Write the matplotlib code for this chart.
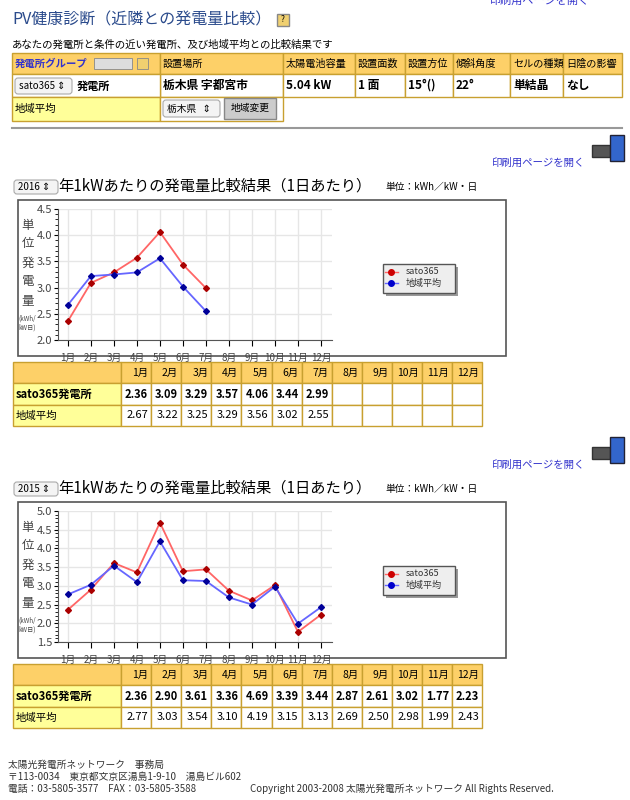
import matplotlib
matplotlib.use("Agg")
import matplotlib.pyplot as plt
import numpy as np
from matplotlib.patches import Rectangle, FancyBboxPatch

plt.rcParams["font.family"] = ["Noto Sans CJK JP", "DejaVu Sans"]

months = ["1月", "2月", "3月", "4月", "5月", "6月", "7月", "8月", "9月", "10月", "11月", "12月"]
site_2016 = [2.36, 3.09, 3.29, 3.57, 4.06, 3.44, 2.99]
area_2016 = [2.67, 3.22, 3.25, 3.29, 3.56, 3.02, 2.55]
site_2015 = [2.36, 2.90, 3.61, 3.36, 4.69, 3.39, 3.44, 2.87, 2.61, 3.02, 1.77, 2.23]
area_2015 = [2.77, 3.03, 3.54, 3.10, 4.19, 3.15, 3.13, 2.69, 2.50, 2.98, 1.99, 2.43]
info_head = ["設置場所", "太陽電池容量", "設置面数", "設置方位", "傾斜角度", "セルの種類", "日陰の影響"]
info_vals = ["栃木県 宇都宮市", "5.04 kW", "1 面", "15°()", "22°", "単結晶", "なし"]

W, H = 630, 800
fig = plt.figure(figsize=(6.3, 8), dpi=100)
bg = fig.add_axes([0, 0, 1, 1])
bg.set_xlim(0, W); bg.set_ylim(H, 0); bg.axis("off")

ORANGE = "#fdd068"; YELLOW = "#ffff99"; BORDER = "#c8a030"; LINK = "#3333cc"

def cell(x0, y0, x1, y1, fc, text="", ha="left", bold=False, size=8, color="black"):
    bg.add_patch(Rectangle((x0, y0), x1 - x0, y1 - y0, fc=fc, ec=BORDER, lw=1))
    if text:
        tx = x0 + 3 if ha == "left" else x1 - 3
        bg.text(tx, (y0 + y1) / 2, text, ha=ha, va="center", fontsize=size,
                weight="bold" if bold else "normal", color=color)

def button(x0, y0, x1, y1, text, fc="#f4f4f4"):
    bg.add_patch(FancyBboxPatch((x0, y0), x1 - x0, y1 - y0, boxstyle="round,pad=0,rounding_size=3",
                                fc=fc, ec="#aaaaaa", lw=0.8))
    bg.text(x0 + 4, (y0 + y1) / 2, text, ha="left", va="center", fontsize=7)

# header
bg.text(12, 20, "PV健康診断（近隣との発電量比較）", fontsize=11.5, color="#2b4b8c", va="center")
bg.add_patch(Rectangle((277, 14), 12, 12, fc="#f0d070", ec="#888"))
bg.text(283, 20, "?", fontsize=6, ha="center", va="center")
bg.text(490, 0, "印刷用ページを開く", fontsize=8, color=LINK, va="center")
bg.text(12, 45, "あなたの発電所と条件の近い発電所、及び地域平均との比較結果です", fontsize=7.5, va="center")

cols = [12, 160, 283, 355, 405, 453, 510, 563, 622]
cell(12, 53, 160, 74, ORANGE, "発電所グループ", bold=True, color="#3333cc", size=7.5)
bg.add_patch(Rectangle((94, 58), 38, 11, fc="#ddd", ec="#888", lw=0.6))
bg.add_patch(Rectangle((137, 58), 11, 11, fc="#f0d070", ec="#888", lw=0.6))
for i, t in enumerate(info_head):
    cell(cols[i + 1], 53, cols[i + 2], 74, ORANGE, t, size=7.3)
    cell(cols[i + 1], 74, cols[i + 2], 97, "white", info_vals[i], bold=True, size=8.5)
cell(12, 74, 160, 97, "white")
button(15, 78, 72, 94, "sato365 ⇕")
bg.text(77, 86, "発電所", fontsize=8, weight="bold", va="center")
cell(12, 97, 160, 121, YELLOW, "地域平均", size=7.5)
cell(160, 97, 283, 121, "white")
button(163, 100, 220, 117, "栃木県   ⇕")
bg.add_patch(Rectangle((224, 98), 52, 21, fc="#cccccc", ec="#888"))
bg.text(250, 108, "地域変更", fontsize=7, ha="center", va="center")
bg.plot([12, 622], [128, 128], color="#999", lw=1.5)

def section(y, year, site, area, ylo, yhi):
    bg.add_patch(Rectangle((592, y - 18), 18, 12, fc="#555", ec="#333"))
    bg.add_patch(Rectangle((610, y - 28), 14, 26, fc="#3366cc", ec="#223"))
    bg.text(492, y, "印刷用ページを開く", fontsize=7.5, color=LINK, va="center")
    button(14, y + 17, 58, y + 31, f"{year} ⇕")
    bg.text(58, y + 23, "年1kWあたりの発電量比較結果（1日あたり）", fontsize=11, va="center")
    bg.text(385, y + 24, "単位：kWh／kW・日", fontsize=7, va="center")
    bg.add_patch(Rectangle((18, y + 37), 488, 156, fc="white", ec="#555", lw=1.2))
    ax = fig.add_axes([58 / W, 1 - (y + 177) / H, 274 / W, 131 / H])
    xs = list(range(1, 13))
    ax.plot(xs[:len(site)], site, color="#ff6666", lw=1.3, marker="D", ms=3, mfc="#aa0000", mec="#aa0000")
    ax.plot(xs[:len(area)], area, color="#6666ff", lw=1.3, marker="D", ms=3, mfc="#000099", mec="#000099")
    ax.set_xlim(0.57, 12.48); ax.set_ylim(ylo, yhi)
    ax.set_xticks(xs); ax.set_xticklabels(months, fontsize=7, color="#444")
    yt = np.arange(ylo, yhi + 0.01, 0.5)
    ax.set_yticks(yt)
    ax.set_yticklabels([f"{v:.1f}" for v in yt], fontsize=8, color="#444")
    ax.grid(True, color="#e6e6e6", lw=1)
    for s in ["top", "right"]: ax.spines[s].set_visible(False)
    ax.spines["left"].set_color("#555"); ax.spines["bottom"].set_color("#555")
    ax.minorticks_on(); ax.tick_params(axis="x", which="minor", bottom=False)
    ax.tick_params(axis="y", length=3, pad=1)
    ax.tick_params(axis="x", length=4, pad=5)
    ax.tick_params(which="minor", length=2)
    for i, ch in enumerate("単位発電量"):
        bg.text(28, y + 62 + i * 19, ch, fontsize=9, color="#444", ha="center", va="center")
    bg.text(27, y + 160, "(kWh/\nkW日)", fontsize=4.5, color="#444", ha="center", va="center")
    bg.add_patch(Rectangle((386, y + 104), 72, 29, fc="#999", ec="none"))
    bg.add_patch(Rectangle((383, y + 101), 72, 29, fc="#eeeeee", ec="#555"))
    for k, (lab, lc, mc) in enumerate([("sato365", "#ff6666", "#cc0000"), ("地域平均", "#6666ff", "#0000cc")]):
        yy = y + 109 + k * 11
        bg.plot([385, 398], [yy, yy], color=lc, lw=1)
        bg.plot([391], [yy], marker="o", ms=4, color=mc)
        bg.text(406, yy, lab, fontsize=6.5, va="center", color="#333")
    t0 = y + 199
    rows = [t0, t0 + 21, t0 + 43, t0 + 64]
    mx = [121 + i * 30.1 for i in range(13)]
    cell(13, rows[0], 121, rows[1], ORANGE)
    cell(13, rows[1], 121, rows[2], YELLOW, "sato365発電所", bold=True, size=8)
    cell(13, rows[2], 121, rows[3], YELLOW, "地域平均", size=7.5)
    for i in range(12):
        cell(mx[i], rows[0], mx[i + 1], rows[1], ORANGE, months[i], ha="right", size=7.5)
        cell(mx[i], rows[1], mx[i + 1], rows[2], "white",
             f"{site[i]:.2f}" if i < len(site) else "", ha="right", bold=True, size=8)
        cell(mx[i], rows[2], mx[i + 1], rows[3], "white",
             f"{area[i]:.2f}" if i < len(area) else "", ha="right", size=8)

section(163, 2016, site_2016, area_2016, 2.0, 4.5)
section(465, 2015, site_2015, area_2015, 1.5, 5.0)

for k, t in enumerate(["太陽光発電所ネットワーク　事務局", "〒113-0034　東京都文京区湯島1-9-10　湯島ビル602",
                       "電話：03-5805-3577　FAX：03-5805-3588"]):
    bg.text(8, 765 + k * 12, t, fontsize=7, va="center", color="#333")
bg.text(250, 789, "Copyright 2003-2008 太陽光発電所ネットワーク All Rights Reserved.", fontsize=7, va="center", color="#333")

fig.savefig("out.png", dpi=100)
